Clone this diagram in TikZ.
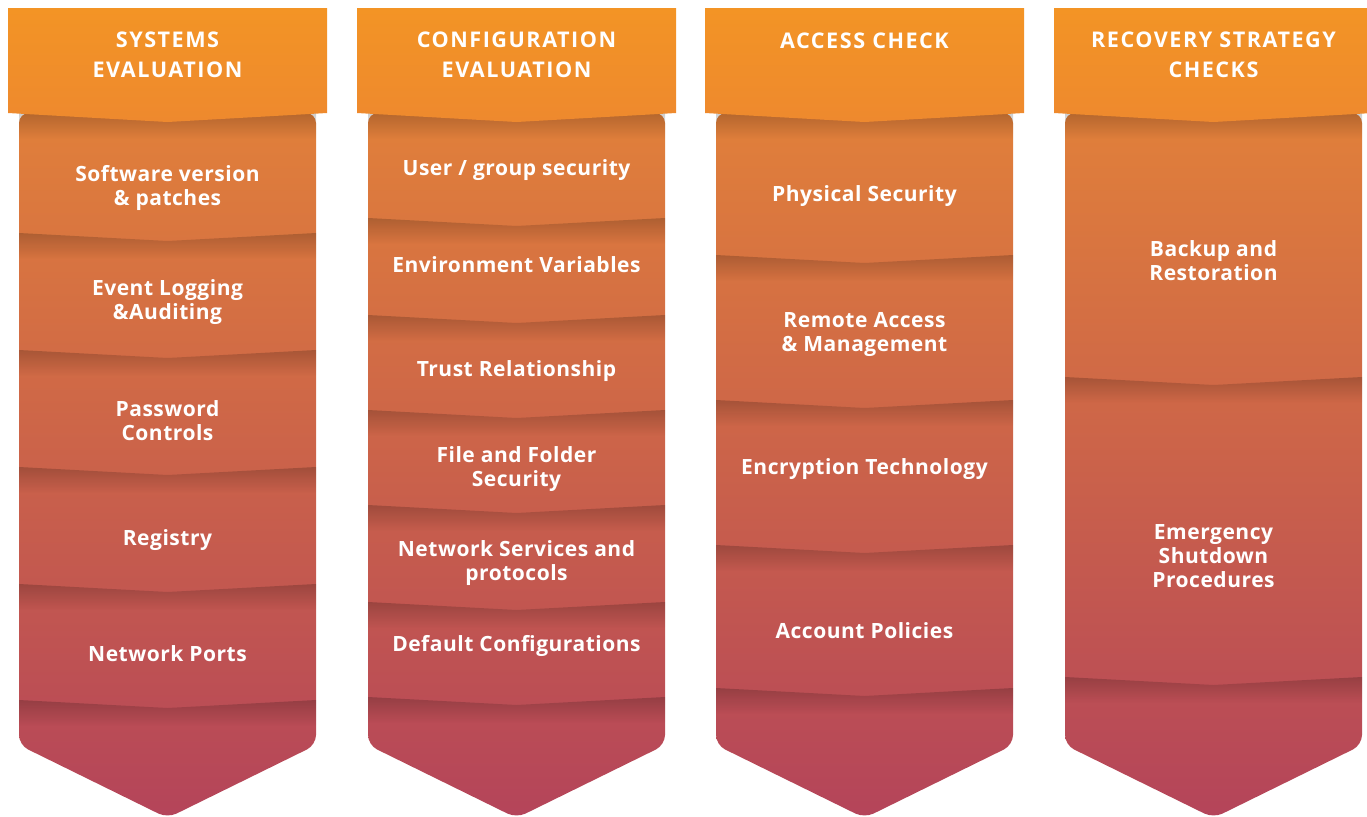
\documentclass[tikz,border=0pt]{standalone}
\usepackage{fontspec}
\setmainfont{Open Sans}[LetterSpace=2.5]
\newfontfamily\headfont{Open Sans}[LetterSpace=7]
\usetikzlibrary{fadings}
\newcommand{\unitsize}{0.5pt}

\definecolor{hdtop}{RGB}{243,148,37}
\definecolor{hdbot}{RGB}{238,137,46}
\definecolor{bdtop}{RGB}{225,128,58}
\definecolor{bdmid}{RGB}{204,100,78}
\definecolor{bdbot}{RGB}{180,68,90}

\tikzfading[name=shadowfade, top color=transparent!0, bottom color=transparent!100]

% body of a column, #1 = left edge
\newcommand{\colbody}[1]{\shade[top color=bdtop, middle color=bdmid, bottom color=bdbot, rounded corners=5pt] (#1,113) -- ({#1+297},113) -- ({#1+297},745) -- ({#1+148.5},818) -- (#1,745) -- cycle;}
% header box, #1 = left edge
\newcommand{\colhead}[1]{\shade[top color=hdtop, bottom color=hdbot] (#1,8) -- ({#1+319},8) -- ({#1+319},113) -- ({#1+159.5},122) -- (#1,113) -- cycle;}
% shadow under a chevron edge, #1 = left edge, #2 = y
\newcommand{\chevshadow}[2]{\fill[black, opacity=0.2, path fading=shadowfade] (#1,#2) -- ({#1+148.5},{#2+8}) -- ({#1+297},#2) -- ({#1+297},{#2+26}) -- (#1,{#2+26}) -- cycle;}

\begin{document}
\begin{tikzpicture}[x=\unitsize,y=-\unitsize]
\useasboundingbox (0,0) rectangle (1367,816);
\tikzstyle{itemtext}=[text=white,
			font=\bfseries\fontsize{10.5}{12}\selectfont,
			align=center,
			inner sep=0pt
			]
\tikzstyle{headtext}=[text=white,
			font=\headfont\bfseries\fontsize{10.8}{15}\selectfont,
			align=center,
			inner sep=0pt
			]


\colbody{19}
\colbody{368}
\colbody{716}
\colbody{1065}


\chevshadow{19}{113}
\chevshadow{19}{233}
\chevshadow{19}{350}
\chevshadow{19}{467}
\chevshadow{19}{584}
\chevshadow{19}{700}


\chevshadow{368}{113}
\chevshadow{368}{218}
\chevshadow{368}{315}
\chevshadow{368}{410}
\chevshadow{368}{505}
\chevshadow{368}{602}
\chevshadow{368}{697}


\chevshadow{716}{113}
\chevshadow{716}{255}
\chevshadow{716}{400}
\chevshadow{716}{545}
\chevshadow{716}{688}


\chevshadow{1065}{113}
\chevshadow{1065}{377}
\chevshadow{1065}{677}


\colhead{8}
\colhead{357}
\colhead{705}
\colhead{1054}


\node[headtext] (hse) at (167.5,55) {SYSTEMS\\EVALUATION};
\node[headtext] (hce) at (516.5,55) {CONFIGURATION\\EVALUATION};
\node[headtext] (hac) at (864.5,41) {ACCESS CHECK};
\node[headtext] (hrs) at (1213.5,55) {RECOVERY STRATEGY\\CHECKS};


\node[itemtext] (se1) at (167.5,188) {Software version\\\& patches};
\node[itemtext] (se2) at (167.5,302) {Event Logging\\\&Auditing};
\node[itemtext] (se3) at (167.5,421) {Password\\Controls};
\node[itemtext] (se4) at (167.5,540) {Registry};
\node[itemtext] (se5) at (167.5,654) {Network Ports};


\node[itemtext] (ce1) at (516.5,170) {User / group security};
\node[itemtext] (ce2) at (516.5,265) {Environment Variables};
\node[itemtext] (ce3) at (516.5,371) {Trust Relationship};
\node[itemtext] (ce4) at (516.5,469) {File and Folder\\Security};
\node[itemtext] (ce5) at (516.5,563) {Network Services and\\protocols};
\node[itemtext] (ce6) at (516.5,646) {Default Configurations};


\node[itemtext] (ac1) at (864.5,196) {Physical Security};
\node[itemtext] (ac2) at (864.5,334) {Remote Access\\\& Management};
\node[itemtext] (ac3) at (864.5,469) {Encryption Technology};
\node[itemtext] (ac4) at (864.5,631) {Account Policies};


\node[itemtext] (rs1) at (1213.5,261) {Backup and\\Restoration};
\node[itemtext] (rs2) at (1213.5,556) {Emergency\\Shutdown\\Procedures};

\end{tikzpicture}
\end{document}
